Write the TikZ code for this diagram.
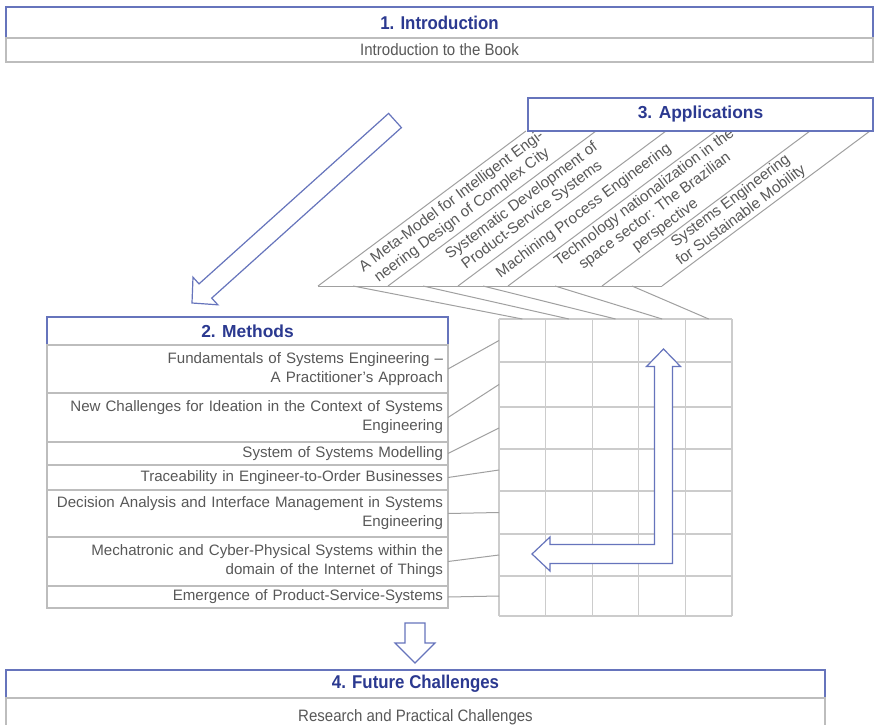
\documentclass[tikz,border=0pt]{standalone}
\usepackage{fontspec}
\setmainfont{Liberation Sans}
\newfontfamily\narrowsans[FakeStretch=0.91]{Liberation Sans}
\usetikzlibrary{calc}

\definecolor{navy}{HTML}{2B3990}
\definecolor{frameblue}{HTML}{6674BC}
\definecolor{txtgray}{HTML}{585858}
\definecolor{rowgray}{HTML}{BDBDBD}
\definecolor{wiregray}{HTML}{A0A0A0}
\definecolor{gridgray}{HTML}{CCCCCC}

\begin{document}
\hyphenpenalty=10000
\exhyphenpenalty=10000
\begin{tikzpicture}[x=1pt,y=-1pt,
  every node/.style={inner sep=0pt,outer sep=0pt},
  headbox/.style={draw=frameblue,line width=1.2pt,fill=white,text=navy,
    font=\fontsize{17.4}{20}\selectfont\bfseries},
  headboxnarrow/.style={draw=frameblue,line width=1.2pt,fill=white,text=navy,
    font=\narrowsans\fontsize{18.5}{21}\selectfont\bfseries},
  subboxnarrow/.style={draw=rowgray,line width=1.2pt,fill=white,text=txtgray,
    font=\narrowsans\fontsize{16.5}{19}\selectfont},
  itembox/.style={draw=rowgray,line width=1.2pt,fill=white,text=txtgray,
    font=\fontsize{15.1}{19}\selectfont,text width=391pt,align=right,
    inner xsep=5pt,anchor=north west},
  striptext/.style={text=txtgray,font=\fontsize{15.2}{17.5}\selectfont,
    align=center,rotate=36.69},
  wire/.style={draw=wiregray,line width=1pt},
  gridline/.style={draw=gridgray,line width=1.2pt},
  blockarrow/.style={draw=frameblue,line width=1.2pt,fill=white,line join=miter}
]
\useasboundingbox (0,0) rectangle (876,725);
\fill[white] (0,0) rectangle (876,725);

% ---------- 1. Introduction ----------
\node[headboxnarrow,minimum width=867pt,minimum height=31pt] (intro) at (439.5,22.5) {1. Introduction};
\node[subboxnarrow,minimum width=867pt,minimum height=24pt] (introsub) at (439.5,50) {Introduction to the Book};

% arrow from the introduction down to the methods
\draw[blockarrow] (401.4,127.6) -- (211.7,298.1) -- (217.8,304.8) -- (192,303)
  -- (193.0,277.2) -- (199.0,283.9) -- (388.6,113.4) -- cycle;

% ---------- matrix of methods x applications ----------
\foreach \gx in {499,545.6,592.2,638.8,685.4,732}
  \draw[gridline] (\gx,319) -- (\gx,616);
\foreach \gy in {319,362,407,449,491,534,576,616}
  \draw[gridline] (499,\gy) -- (732,\gy);

% row entry points on the left side of the matrix
\coordinate (g-r1) at (499,340.5);
\coordinate (g-r2) at (499,384.5);
\coordinate (g-r3) at (499,428);
\coordinate (g-r4) at (499,470);
\coordinate (g-r5) at (499,512.5);
\coordinate (g-r6) at (499,555);
\coordinate (g-r7) at (499,596);
% column entry points on the top of the matrix
\coordinate (g-c1) at (522.3,319);
\coordinate (g-c2) at (568.9,319);
\coordinate (g-c3) at (615.5,319);
\coordinate (g-c4) at (662.1,319);
\coordinate (g-c5) at (708.7,319);

% L-shaped arrow inside the matrix
\draw[blockarrow] (663.5,349) -- (680.5,366.5) -- (672.5,366.5) -- (672.5,563.5)
  -- (550,563.5) -- (550,571) -- (532,554) -- (550,537) -- (550,544.5)
  -- (654.5,544.5) -- (654.5,366.5) -- (646.5,366.5) -- cycle;

% ---------- 3. Applications ----------
% slanted strips below the applications header
\draw[wire] (318,286) -- (662,286);
\foreach \bx in {318,388,458,508,602,662}
  \draw[wire] (\bx,286) -- ({\bx+208},131);

\coordinate (s1) at (353,286);
\coordinate (s2) at (423,286);
\coordinate (s3) at (483,286);
\coordinate (s4) at (555,286);
\coordinate (s5) at (632,286);

\node[striptext] (a1) at (457,208.5) {A Meta-Model for Intelligent Engi-\\neering Design of Complex City};
\node[striptext] (a2) at (527,208.5) {Systematic Development of\\Product-Service Systems};
\node[striptext] (a3) at (584,211) {Machining Process Engineering};
\node[striptext] (a4) at (655,211.5) {Technology nationalization in the\\space sector: The Brazilian\\perspective};
\node[striptext] (a5) at (736,208.5) {Systems Engineering\\for Sustainable Mobility};

\node[headbox,minimum width=345pt,minimum height=33pt] (apps) at (700.5,114.5) {3. Applications};

% strips feed the matrix columns
\draw[wire] (s1) -- (g-c1);
\draw[wire] (s2) -- (g-c2);
\draw[wire] (s3) -- (g-c3);
\draw[wire] (s4) -- (g-c4);
\draw[wire] (s5) -- (g-c5);

% ---------- 2. Methods ----------
\node[headbox,minimum width=401pt,minimum height=28pt] (methods) at (247.5,331) {2. Methods};
\node[itembox,minimum height=48pt] (m1) at (47,345) {Fundamentals of Systems Engineering –\\A Practitioner’s Approach};
\node[itembox,minimum height=49pt] (m2) at (47,393) {New Challenges for Ideation in the Context of Systems\\Engineering};
\node[itembox,minimum height=23pt] (m3) at (47,442) {System of Systems Modelling};
\node[itembox,minimum height=25pt] (m4) at (47,465) {Traceability in Engineer-to-Order Businesses};
\node[itembox,minimum height=47pt] (m5) at (47,490) {Decision Analysis and Interface Management in Systems\\Engineering};
\node[itembox,minimum height=49pt] (m6) at (47,537) {Mechatronic and Cyber-Physical Systems within the\\domain of the Internet of Things};
\node[itembox,minimum height=22pt] (m7) at (47,586) {Emergence of Product-Service-Systems};

% methods feed the matrix rows
\draw[wire] (m1.east) -- (g-r1);
\draw[wire] (m2.east) -- (g-r2);
\draw[wire] (m3.east) -- (g-r3);
\draw[wire] (m4.east) -- (g-r4);
\draw[wire] (m5.east) -- (g-r5);
\draw[wire] (m6.east) -- (g-r6);
\draw[wire] (m7.east) -- (g-r7);

% arrow down to the future challenges
\draw[blockarrow] (405,623) -- (425,623) -- (425,643) -- (435,643) -- (415,663)
  -- (395,643) -- (405,643) -- cycle;

% ---------- 4. Future Challenges ----------
\node[headboxnarrow,minimum width=819pt,minimum height=28pt] (future) at (415.5,684) {4. Future Challenges};
\node[subboxnarrow,minimum width=819pt,minimum height=38pt] (futuresub) at (415.5,717) {Research and Practical Challenges};
\end{tikzpicture}
\end{document}
